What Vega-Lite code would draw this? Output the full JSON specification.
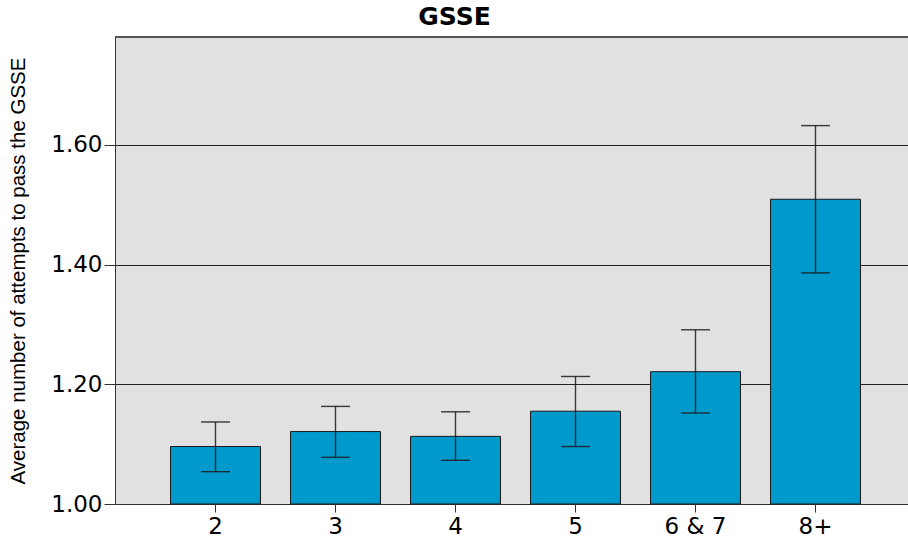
{
  "$schema": "https://vega.github.io/schema/vega-lite/v6.json",
  "autosize": {"type": "none"},
  "padding": {"left": 115, "top": 37, "right": 0, "bottom": 36},
  "width": 793,
  "height": 467,
  "background": "#ffffff",
  "config": {
    "view": {"fill": "#e1e1e1", "stroke": null},
    "axis": {"labelColor": "#000000", "titleColor": "#000000"}
  },
  "title": {
    "text": "GSSE",
    "font": "DejaVu Sans",
    "fontSize": 25,
    "fontWeight": "bold",
    "color": "#000000",
    "anchor": "middle",
    "frame": "group",
    "dx": -57,
    "offset": 6
  },
  "data": {
    "values": [
      {"group": "2", "mean": 1.096, "lo": 1.054, "hi": 1.137},
      {"group": "3", "mean": 1.121, "lo": 1.078, "hi": 1.163},
      {"group": "4", "mean": 1.113, "lo": 1.073, "hi": 1.154},
      {"group": "5", "mean": 1.155, "lo": 1.096, "hi": 1.213},
      {"group": "6 & 7", "mean": 1.221, "lo": 1.152, "hi": 1.291},
      {"group": "8+", "mean": 1.509, "lo": 1.386, "hi": 1.632}
    ]
  },
  "layer": [
    {
      "mark": {"type": "bar", "fill": "#0099cc", "stroke": "#1a1a1a", "strokeWidth": 1},
      "encoding": {
        "x": {
          "field": "group",
          "type": "nominal",
          "sort": null,
          "scale": {"range": [0, 801], "paddingInner": 0.25, "paddingOuter": 0.4625},
          "axis": {
            "title": null,
            "labelAngle": 0,
            "labelFont": "DejaVu Sans",
            "labelFontSize": 23,
            "labelPadding": 3,
            "tickSize": 8,
            "tickColor": "#333333",
            "domainColor": "#333333",
            "domainWidth": 1
          }
        },
        "y": {
          "field": "mean",
          "type": "quantitative",
          "scale": {"domain": [1, 1.78], "nice": false, "zero": false},
          "axis": {
            "title": "Average number of attempts to pass the GSSE",
            "titleFont": "Liberation Sans",
            "titleFontSize": 20.5,
            "titleFontWeight": "normal",
            "titlePadding": 22,
            "values": [1.0, 1.2, 1.4, 1.6],
            "format": ".2f",
            "labelFont": "DejaVu Sans",
            "labelFontSize": 23,
            "labelPadding": 2,
            "tickSize": 11,
            "tickColor": "#333333",
            "domainColor": "#333333",
            "grid": true,
            "gridColor": "#222222",
            "gridWidth": 1.2
          }
        },
        "y2": {"datum": 1}
      }
    },
    {
      "mark": {"type": "rule", "color": "#1a1a1a", "opacity": 0.85, "strokeWidth": 1.4},
      "encoding": {
        "x": {"field": "group", "type": "nominal", "sort": null},
        "y": {"field": "lo", "type": "quantitative"},
        "y2": {"field": "hi"}
      }
    },
    {
      "mark": {"type": "tick", "color": "#1a1a1a", "opacity": 0.85, "size": 29, "thickness": 1.4},
      "encoding": {
        "x": {"field": "group", "type": "nominal", "sort": null},
        "y": {"field": "lo", "type": "quantitative"}
      }
    },
    {
      "mark": {"type": "tick", "color": "#1a1a1a", "opacity": 0.85, "size": 29, "thickness": 1.4},
      "encoding": {
        "x": {"field": "group", "type": "nominal", "sort": null},
        "y": {"field": "hi", "type": "quantitative"}
      }
    },
    {
      "data": {"values": [{"top": 1.78}]},
      "mark": {"type": "rule", "color": "#222222", "strokeWidth": 1.5},
      "encoding": {"y": {"field": "top", "type": "quantitative"}}
    }
  ]
}
